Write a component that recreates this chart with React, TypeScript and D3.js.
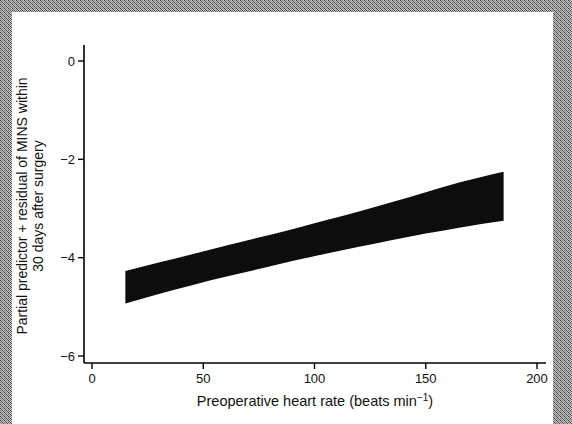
import React, { useEffect, useRef } from "react";
import * as d3 from "d3";

// estimated band
const heartRate = [15, 30, 45, 60, 75, 90, 105, 120, 135, 150, 165, 185];
const upperBound = [-4.27, -4.1, -3.93, -3.76, -3.59, -3.42, -3.24, -3.06, -2.87, -2.67, -2.47, -2.25];
const lowerBound = [-4.93, -4.74, -4.56, -4.39, -4.23, -4.07, -3.92, -3.78, -3.64, -3.51, -3.39, -3.25];

const xTicks = [0, 50, 100, 150, 200];
const yTicks = [0, -2, -4, -6];

const xLabel = "Preoperative heart rate (beats min";
const yLabelLines = ["Partial predictor + residual of MINS within", "30 days after surgery"];

const App = () => {
  const ref = useRef<SVGSVGElement>(null);

  useEffect(() => {
    const width = 572;
    const height = 424;
    const font = "'Liberation Sans', Arial, sans-serif";

    const svg = d3.select(ref.current);
    svg.selectAll("*").remove();

    // grey halftone frame from the scan
    const defs = svg.append("defs");
    const pat = defs
      .append("pattern")
      .attr("id", "halftone")
      .attr("width", 4)
      .attr("height", 4)
      .attr("patternUnits", "userSpaceOnUse");
    pat.append("rect").attr("width", 4).attr("height", 4).attr("fill", "#c4c4c4");
    const dots = [
      [0, 0, "#333"], [2, 0, "#777"], [1, 1, "#555"], [3, 1, "#999"],
      [0, 2, "#666"], [2, 2, "#444"], [1, 3, "#888"], [3, 3, "#555"],
    ];
    dots.forEach(([dx, dy, c]) =>
      pat.append("rect").attr("x", dx).attr("y", dy).attr("width", 1).attr("height", 1).attr("fill", c as string)
    );

    svg.append("rect").attr("width", width).attr("height", height).attr("fill", "white");
    svg.append("rect").attr("x", 0).attr("y", 0).attr("width", width).attr("height", 12).attr("fill", "url(#halftone)");
    svg.append("rect").attr("x", 0).attr("y", 0).attr("width", 12).attr("height", height).attr("fill", "url(#halftone)");
    svg.append("rect").attr("x", 553).attr("y", 0).attr("width", width - 553).attr("height", height).attr("fill", "url(#halftone)");

    // scales
    const x = d3.scaleLinear().domain([0, 200]).range([92, 537]);
    const y = d3.scaleLinear().domain([0, -6]).range([61, 356]);

    const axisLeftX = 84;
    const axisBottomY = 363;

    // confidence band
    const area = d3
      .area<number>()
      .x((d, i) => x(heartRate[i]))
      .y0((d, i) => y(lowerBound[i]))
      .y1((d, i) => y(upperBound[i]))
      .curve(d3.curveMonotoneX);

    svg
      .append("path")
      .datum(heartRate)
      .attr("d", area)
      .attr("fill", "#0d0d0d");

    // y axis
    const gy = svg.append("g").attr("transform", `translate(${axisLeftX},0)`);
    gy.append("line")
      .attr("x1", 0)
      .attr("x2", 0)
      .attr("y1", 45)
      .attr("y2", axisBottomY)
      .attr("stroke", "black")
      .attr("stroke-width", 1.6);
    gy.selectAll(".tick")
      .data(yTicks)
      .join("line")
      .attr("x1", -6)
      .attr("x2", 0)
      .attr("y1", (d) => y(d))
      .attr("y2", (d) => y(d))
      .attr("stroke", "black")
      .attr("stroke-width", 1.4);
    gy.selectAll(".lbl")
      .data(yTicks)
      .join("text")
      .attr("x", -9)
      .attr("y", (d) => y(d))
      .attr("dy", "0.35em")
      .attr("text-anchor", "end")
      .attr("font-family", font)
      .attr("font-size", "13px")
      .attr("fill", "#111")
      .text((d) => (d < 0 ? "\u2212" + Math.abs(d) : String(d)));

    // x axis
    const gx = svg.append("g").attr("transform", `translate(0,${axisBottomY})`);
    gx.append("line")
      .attr("x1", axisLeftX)
      .attr("x2", 546)
      .attr("y1", 0)
      .attr("y2", 0)
      .attr("stroke", "black")
      .attr("stroke-width", 1.6);
    gx.selectAll(".tick")
      .data(xTicks)
      .join("line")
      .attr("x1", (d) => x(d))
      .attr("x2", (d) => x(d))
      .attr("y1", 0)
      .attr("y2", 6)
      .attr("stroke", "black")
      .attr("stroke-width", 1.4);
    gx.selectAll(".lbl")
      .data(xTicks)
      .join("text")
      .attr("x", (d) => x(d))
      .attr("y", 20)
      .attr("text-anchor", "middle")
      .attr("font-family", font)
      .attr("font-size", "13px")
      .attr("fill", "#111")
      .text((d) => String(d));

    // x label with superscript
    const xl = svg
      .append("text")
      .attr("x", 315)
      .attr("y", 406)
      .attr("text-anchor", "middle")
      .attr("font-family", font)
      .attr("font-size", "14.5px")
      .attr("fill", "#111");
    xl.append("tspan").text(xLabel);
    xl.append("tspan").attr("dy", -5).attr("font-size", "10px").text("\u22121");
    xl.append("tspan").attr("dy", 5).text(")");

    // y label, two lines rotated
    svg
      .append("g")
      .attr("transform", "translate(27,206) rotate(-90)")
      .selectAll("text")
      .data(yLabelLines)
      .join("text")
      .attr("x", 0)
      .attr("y", (d, i) => i * 16)
      .attr("text-anchor", "middle")
      .attr("font-family", font)
      .attr("font-size", "14px")
      .attr("fill", "#111")
      .text((d) => d);
  }, []);

  return (
    <svg
      ref={ref}
      width={572}
      height={424}
      style={{ position: "absolute", left: 0, top: 0 }}
    ></svg>
  );
};

export default App;
